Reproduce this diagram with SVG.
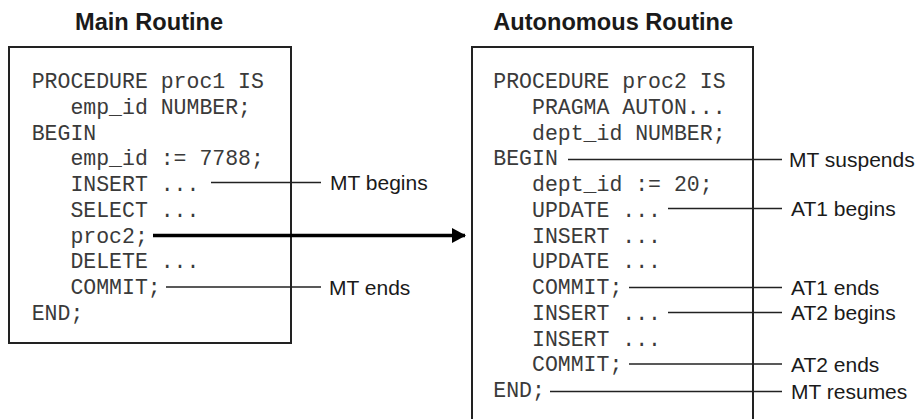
<svg xmlns="http://www.w3.org/2000/svg" width="923" height="419" viewBox="0 0 923 419">
<style>
.title{font-family:"Liberation Sans",Arial,sans-serif;font-weight:bold;font-size:23.6px;fill:#1a1a1a}
.code{font-family:"Liberation Mono","Courier New",monospace;font-size:21.5px;fill:#3a3a3a;white-space:pre}
.lbl{font-family:"Liberation Sans",Arial,sans-serif;font-size:21px;fill:#1a1a1a}
.box{fill:none;stroke:#222;stroke-width:2}
.con{stroke:#222;stroke-width:1.5;fill:none}
</style>
<defs>
<marker id="ah" viewBox="0 0 14 15" refX="13" refY="7.5" markerWidth="14" markerHeight="15" markerUnits="userSpaceOnUse" orient="auto">
<path d="M0,0 L14,7.5 L0,15 Z" fill="#000"/>
</marker>
</defs>
<g id="main-routine">
<text class="title" x="75" y="30">Main Routine</text>
<rect class="box" x="9" y="47" width="282" height="296"/>
<text class="code" x="31.7" y="88">PROCEDURE proc1 IS</text>
<text class="code" x="31.7" y="113.75">   emp_id NUMBER;</text>
<text class="code" x="31.7" y="139.5">BEGIN</text>
<text class="code" x="31.7" y="165.25">   emp_id := 7788;</text>
<text class="code" x="31.7" y="191">   INSERT ...</text>
<text class="code" x="31.7" y="216.75">   SELECT ...</text>
<text class="code" x="31.7" y="242.5">   proc2;</text>
<text class="code" x="31.7" y="268.25">   DELETE ...</text>
<text class="code" x="31.7" y="294">   COMMIT;</text>
<text class="code" x="31.7" y="319.75">END;</text>
</g>
<g id="autonomous-routine">
<text class="title" x="493.3" y="30">Autonomous Routine</text>
<rect class="box" x="472" y="47" width="281" height="390"/>
<text class="code" x="493.3" y="88">PROCEDURE proc2 IS</text>
<text class="code" x="493.3" y="113.75">   PRAGMA AUTON...</text>
<text class="code" x="493.3" y="139.5">   dept_id NUMBER;</text>
<text class="code" x="493.3" y="165.25">BEGIN</text>
<text class="code" x="493.3" y="191">   dept_id := 20;</text>
<text class="code" x="493.3" y="216.75">   UPDATE ...</text>
<text class="code" x="493.3" y="242.5">   INSERT ...</text>
<text class="code" x="493.3" y="268.25">   UPDATE ...</text>
<text class="code" x="493.3" y="294">   COMMIT;</text>
<text class="code" x="493.3" y="319.75">   INSERT ...</text>
<text class="code" x="493.3" y="345.5">   INSERT ...</text>
<text class="code" x="493.3" y="371.25">   COMMIT;</text>
<text class="code" x="493.3" y="397">END;</text>
</g>
<g id="labels">
<text class="lbl" x="330" y="190">MT begins</text>
<text class="lbl" x="329" y="295">MT ends</text>
<text class="lbl" x="789" y="167">MT suspends</text>
<text class="lbl" x="791" y="216">AT1 begins</text>
<text class="lbl" x="791" y="295">AT1 ends</text>
<text class="lbl" x="791" y="320">AT2 begins</text>
<text class="lbl" x="791" y="372">AT2 ends</text>
<text class="lbl" x="791" y="399">MT resumes</text>
</g>
<g id="connectors">
<line class="con" x1="211" y1="182.5" x2="321" y2="182.5"/>
<line class="con" x1="166" y1="287" x2="321" y2="287"/>
<line x1="153" y1="235.5" x2="465" y2="235.5" stroke="#000" stroke-width="3.3" marker-end="url(#ah)"/>
<line class="con" x1="568" y1="159.5" x2="782" y2="159.5"/>
<line class="con" x1="668" y1="208.5" x2="782" y2="208.5"/>
<line class="con" x1="629" y1="287.5" x2="782" y2="287.5"/>
<line class="con" x1="668" y1="312.5" x2="782" y2="312.5"/>
<line class="con" x1="629" y1="364" x2="782" y2="364"/>
<line class="con" x1="550" y1="391.5" x2="782" y2="391.5"/>
</g>
</svg>
